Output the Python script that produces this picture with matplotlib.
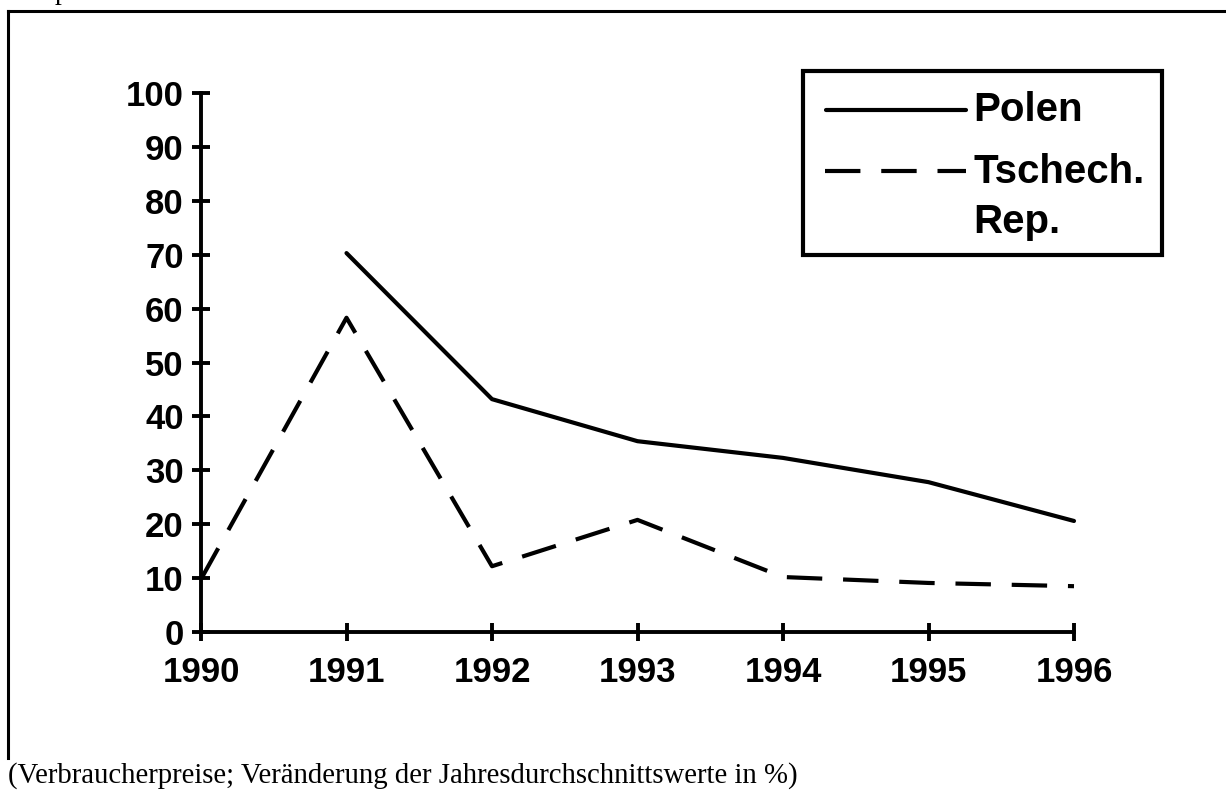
import matplotlib.pyplot as plt
from matplotlib.lines import Line2D
from matplotlib.patches import Rectangle

# Verbraucherpreise, Veränderung in %
jahre = [1990, 1991, 1992, 1993, 1994, 1995, 1996]
polen_jahre = [1991, 1992, 1993, 1994, 1995, 1996]
polen = [70.3, 43.2, 35.4, 32.3, 27.8, 20.6]
tschech = [9.8, 58.3, 12.2, 20.8, 10.2, 9.1, 8.5]
y_ticks = [0, 10, 20, 30, 40, 50, 60, 70, 80, 90, 100]

W, H = 1226, 800
fig = plt.figure(figsize=(W / 100, H / 100), dpi=100)
ax = fig.add_axes([201 / W, 1 - 632 / H, (1074 - 201) / W, (632 - 93) / H])

bold = dict(family="Liberation Sans", fontweight="bold", fontsize=25)
bold_leg = dict(family="Liberation Sans", fontweight="bold", fontsize=29)

ax.plot(polen_jahre, polen, color="black", lw=3, solid_capstyle="round",
        clip_on=False)
ax.plot(jahre, tschech, color="black", lw=3, dashes=(8.5, 5),
        dash_capstyle="butt", clip_on=False)

ax.set_xlim(1990, 1996)
ax.set_ylim(0, 100)
ax.set_xticks(jahre)
ax.set_yticks(y_ticks)
ax.set_xticklabels([str(j) for j in jahre], **bold)
ax.set_yticklabels([str(v) for v in y_ticks], **bold)

for s in ["top", "right"]:
    ax.spines[s].set_visible(False)
for s in ["left", "bottom"]:
    ax.spines[s].set_linewidth(2.8)
ax.tick_params(axis="both", direction="inout", length=13, width=2.8)
ax.tick_params(axis="y", pad=6)
ax.tick_params(axis="x", pad=11)

# Legende (von Hand, wie im Original)
def fx(px):
    return px / W


def fy(py):
    return 1 - py / H


fig.add_artist(Rectangle((fx(803), fy(255)), fx(1162) - fx(803), fy(71) - fy(255),
                         transform=fig.transFigure, fill=False, lw=3, color="black"))
fig.add_artist(Line2D([fx(826), fx(966)], [fy(110), fy(110)], transform=fig.transFigure,
                      color="black", lw=3, solid_capstyle="round"))
fig.add_artist(Line2D([fx(825), fx(966)], [fy(171), fy(171)], transform=fig.transFigure,
                      color="black", lw=3, dashes=(8.5, 5), dash_capstyle="butt"))
fig.text(fx(973), fy(110), "Polen", va="center", ha="left", **bold_leg)
fig.text(fx(973), fy(172), "Tschech.", va="center", ha="left", **bold_leg)
fig.text(fx(973), fy(222), "Rep.", va="center", ha="left", **bold_leg)

# Rahmen
fig.add_artist(Line2D([fx(8), fx(W + 5)], [fy(11), fy(11)], transform=fig.transFigure,
                      color="black", lw=2.2))
fig.add_artist(Line2D([fx(8), fx(8)], [fy(11), fy(758)], transform=fig.transFigure,
                      color="black", lw=2.2))

fig.text(fx(55), 1 + 1 / H, "p", family="Liberation Serif", fontsize=20,
         va="baseline", ha="left")
fig.text(fx(8), fy(776), "(Verbraucherpreise; Veränderung der Jahresdurchschnittswerte in %)",
         family="Liberation Serif", fontsize=20.7, va="center", ha="left")

fig.savefig("out.png", dpi=100)
